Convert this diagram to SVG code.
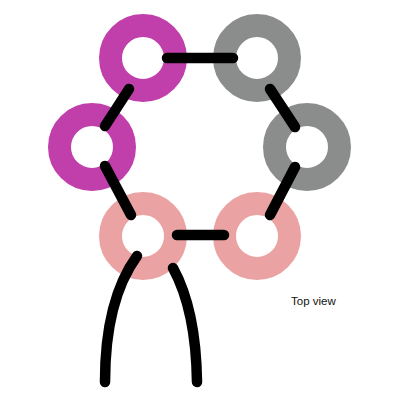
<svg xmlns="http://www.w3.org/2000/svg" width="400" height="400" viewBox="0 0 400 400">
<style>
.ring{fill:none;stroke-width:23}
.m{stroke:#C03FAA}
.g{stroke:#8B8D8C}
.p{stroke:#EBA2A2}
.c{fill:none;stroke:#000;stroke-width:10.5;stroke-linecap:round}
.t{font-family:"Liberation Sans",Arial,sans-serif;font-size:11.5px;fill:#111}
</style>
<rect width="400" height="400" fill="#fff"/>
<g id="ring-tl"><circle class="ring m" cx="143" cy="58" r="32.5"/></g>
<g id="ring-tr"><circle class="ring g" cx="257" cy="58" r="32.5"/></g>
<g id="ring-l"><circle class="ring m" cx="92" cy="147" r="32.5"/></g>
<g id="ring-r"><circle class="ring g" cx="307" cy="147" r="32.5"/></g>
<g id="ring-bl"><circle class="ring p" cx="143" cy="236" r="32.5"/></g>
<g id="ring-br"><circle class="ring p" cx="257" cy="236" r="32.5"/></g>
<g id="connectors">
<line class="c" x1="167" y1="58" x2="233" y2="58"/>
<line class="c" x1="129" y1="89" x2="105" y2="126"/>
<line class="c" x1="105" y1="166" x2="131" y2="215"/>
<line class="c" x1="270" y1="89" x2="295" y2="127"/>
<line class="c" x1="295" y1="167" x2="270" y2="215"/>
<line class="c" x1="177" y1="235" x2="224" y2="235"/>
<path class="c" d="M137,256 Q105,300 105,382"/>
<path class="c" d="M173,268 Q196,310 197,382"/>
</g>
<text class="t" x="291" y="305">Top view</text>
</svg>
